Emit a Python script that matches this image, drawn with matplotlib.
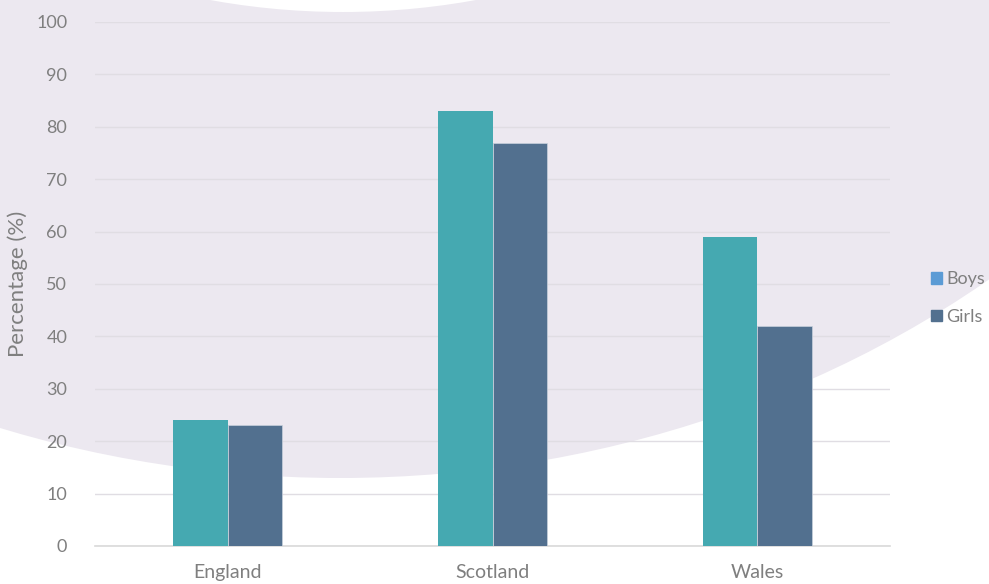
import numpy as np
import matplotlib.pyplot as plt
from matplotlib.patches import Ellipse, Patch

categories = ['England', 'Scotland', 'Wales']
boys = [24, 83, 59]
girls = [23, 77, 42]
yticks = [0, 10, 20, 30, 40, 50, 60, 70, 80, 90, 100]

teal = '#45A9B1'
slate = '#52708F'
legend_boys = '#5B9BD5'
txt = '#7F7F7F'
bg = '#ECE8F0'

plt.rcParams['font.family'] = ['Lato', 'DejaVu Sans']

fig = plt.figure(figsize=(9.89, 5.84), dpi=100)

# background decoration (pixel coordinates)
bgax = fig.add_axes([0, 0, 1, 1])
bgax.set_xlim(0, 989)
bgax.set_ylim(584, 0)
bgax.axis('off')
bgax.add_patch(Ellipse((340, -452), 2102, 1860, color=bg, lw=0))
bgax.add_patch(Ellipse((343, -731), 1486, 1486, color='white', lw=0))

ax = fig.add_axes([95/989, 38/584, 795/989, 524/584])
ax.patch.set_alpha(0)
x = np.arange(len(categories))
w = 0.204
ax.bar(x - w/2, boys, w, color=teal, label='Boys', zorder=3)
ax.bar(x + w/2, girls, w, color=slate, edgecolor='#c9d1dc', linewidth=0.5, label='Girls', zorder=3)

ax.set_xlim(-0.5, 2.5)
ax.set_ylim(0, 100)
ax.set_yticks(yticks)
ax.set_xticks(x)
ax.set_xticklabels(categories)
ax.grid(axis='y', color='#E0DDE3', linewidth=1, zorder=0)
ax.tick_params(length=0, colors=txt)
ax.tick_params(axis='x', pad=13, labelsize=14)
ax.tick_params(axis='y', pad=20, labelsize=13)
for s in ['top', 'right', 'left']:
    ax.spines[s].set_visible(False)
ax.spines['bottom'].set_color('#D9D9D9')
ax.spines['bottom'].set_linewidth(1.2)
ax.set_ylabel('Percentage (%)', fontsize=16, color=txt, labelpad=6)

handles = [Patch(color=legend_boys, label='Boys'), Patch(color=slate, label='Girls')]
fig.legend(handles=handles, loc='center left', bbox_to_anchor=(922/989, 1 - 298/584),
           frameon=False, fontsize=13, labelcolor=txt, handlelength=0.6, handleheight=0.6,
           handletextpad=0.25, labelspacing=1.2, borderpad=0)

plt.savefig('out.png', dpi=100)
